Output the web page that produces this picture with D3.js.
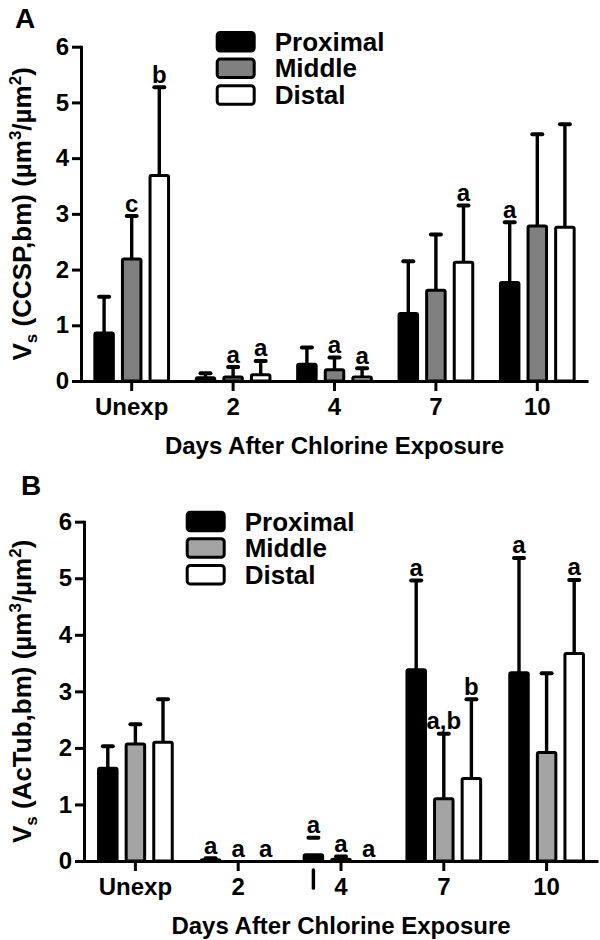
<!DOCTYPE html>
<html>
<head>
<meta charset="utf-8">
<script src="https://cdn.jsdelivr.net/npm/d3@7"></script>
<style>
  html, body { margin: 0; padding: 0; background: #fff; }
  svg text { font-family: "Liberation Sans", Arial, Helvetica, sans-serif; font-weight: bold; fill: #000; }
</style>
</head>
<body>
<svg id="chart" width="600" height="940"></svg>
<script>
// ---------- data ----------
const categories = ["Unexp", "2", "4", "7", "10"];
const seriesNames = ["Proximal", "Middle", "Distal"];
const yTicks = [0, 1, 2, 3, 4, 5, 6];
const xAxisTitle = "Days After Chlorine Exposure";

// Panel A : Vs (CCSP,bm)
const ccspProximal    = [0.86, 0.06, 0.30, 1.21, 1.77];
const ccspProximalErr = [0.65, 0.08, 0.30, 0.94, 1.08];
const ccspMiddle      = [2.19, 0.07, 0.20, 1.63, 2.78];
const ccspMiddleErr   = [0.77, 0.18, 0.22, 1.00, 1.65];
const ccspDistal      = [3.69, 0.11, 0.07, 2.13, 2.76];
const ccspDistalErr   = [1.58, 0.25, 0.16, 1.02, 1.85];
const ccspProximalLbl = ["", "", "", "", "a"];
const ccspMiddleLbl   = ["c", "a", "a", "", ""];
const ccspDistalLbl   = ["b", "a", "a", "a", ""];

// Panel B : Vs (AcTub,bm)
const actubProximal    = [1.64, 0.02, 0.11, 3.38, 3.33];
const actubProximalErr = [0.39, 0.03, 0.30, 1.58, 2.03];
const actubMiddle      = [2.07, 0.00, 0.03, 1.10, 1.92];
const actubMiddleErr   = [0.35, 0.00, 0.05, 1.15, 1.40];
const actubDistal      = [2.10, 0.00, 0.00, 1.46, 3.67];
const actubDistalErr   = [0.76, 0.00, 0.00, 1.40, 1.30];
const actubProximalLbl = ["", "a", "a", "a", "a"];
const actubMiddleLbl   = ["", "a", "a", "a,b", ""];
const actubDistalLbl   = ["", "a", "a", "b", "a"];
// displaced error stem drawn below the axis in the original (day 4, proximal)
const actubDisplacedStem = [{cat: "4", series: "Proximal", from: -0.16, to: -0.48}];

// ---------- drawing ----------
const svg = d3.select("#chart");

function drawPanel(cfg) {
  const g = svg.append("g");
  const x = d3.scaleBand().domain(categories).range([cfg.left, cfg.right]);
  const xs = d3.scalePoint().domain(seriesNames).range([-27.6, 27.6]);
  const y = d3.scaleLinear().domain([0, 6]).range([cfg.bottom, cfg.top]);
  const cx = (c, s) => x(c) + x.bandwidth() / 2 + xs(s);
  const fills = {Proximal: "#000000", Middle: cfg.midFill, Distal: "#ffffff"};

  const rows = [];
  cfg.series.forEach((ser, si) => {
    categories.forEach((c, i) => {
      rows.push({cat: c, series: seriesNames[si], v: ser.vals[i], e: ser.err[i], lbl: ser.lbl[i]});
    });
  });
  const displaced = new Set((cfg.displaced || []).map(d => d.cat + "|" + d.series));

  // error bars (upper only)
  const eb = g.append("g").attr("stroke", "#000");
  rows.filter(d => d.e > 0).forEach(d => {
    const X = cx(d.cat, d.series);
    if (!displaced.has(d.cat + "|" + d.series)) {
      eb.append("line").attr("x1", X).attr("x2", X)
        .attr("y1", y(d.v)).attr("y2", y(d.v + d.e)).attr("stroke-width", 3.4);
    }
    eb.append("line").attr("x1", X - 5).attr("x2", X + 5)
      .attr("y1", y(d.v + d.e)).attr("y2", y(d.v + d.e))
      .attr("stroke-width", 4).attr("stroke-linecap", "round");
  });
  (cfg.displaced || []).forEach(d => {
    const X = cx(d.cat, d.series);
    eb.append("line").attr("x1", X).attr("x2", X)
      .attr("y1", y(d.from)).attr("y2", y(d.to))
      .attr("stroke-width", 3.4).attr("stroke-linecap", "round");
  });

  // bars
  const bw = 18.5;
  g.append("g").selectAll("rect").data(rows).join("rect")
    .attr("x", d => cx(d.cat, d.series) - bw / 2)
    .attr("y", d => y(d.v))
    .attr("width", bw)
    .attr("height", d => y(0) - y(d.v))
    .attr("rx", 1.5)
    .attr("fill", d => fills[d.series])
    .attr("stroke", "#000")
    .attr("stroke-width", 3);

  // significance letters
  g.append("g").selectAll("text").data(rows.filter(d => d.lbl)).join("text")
    .attr("x", d => cx(d.cat, d.series))
    .attr("y", d => y(d.v + d.e) - 4.5)
    .attr("text-anchor", "middle")
    .attr("font-size", 24)
    .text(d => d.lbl);

  // axes
  const yAxis = d3.axisLeft(y).tickValues(yTicks).tickSize(9).tickSizeOuter(0).tickPadding(3)
    .tickFormat(d3.format("d"));
  const ya = g.append("g").attr("transform", `translate(${cfg.left},0)`).call(yAxis);
  const xAxis = d3.axisBottom(x).tickSize(10).tickSizeOuter(0).tickPadding(7);
  const xa = g.append("g").attr("transform", `translate(0,${y(0)})`).call(xAxis);
  [ya, xa].forEach(a => {
    a.selectAll("path, line").attr("stroke", "#000").attr("stroke-width", 3);
    a.selectAll("text").attr("font-size", 24).attr("font-family", null).attr("fill", "#000");
  });
  ya.select(".domain").attr("stroke-linecap", "square");

  // x axis title
  g.append("text")
    .attr("x", (cfg.left + cfg.right) / 2)
    .attr("y", y(0) + 73)
    .attr("text-anchor", "middle")
    .attr("font-size", 24)
    .text(xAxisTitle);

  // y axis title
  const yt = g.append("text")
    .attr("transform", `translate(31,${(cfg.top + cfg.bottom) / 2}) rotate(-90)`)
    .attr("text-anchor", "middle")
    .attr("font-size", 26);
  yt.append("tspan").text("V");
  yt.append("tspan").attr("font-size", 17).attr("dy", 6).text("s");
  yt.append("tspan").attr("dy", -6).text(" (" + cfg.marker + ",bm) (\u00b5m");
  yt.append("tspan").attr("font-size", 17).attr("dy", -10).text("3");
  yt.append("tspan").attr("dy", 10).text("/\u00b5m");
  yt.append("tspan").attr("font-size", 17).attr("dy", -10).text("2");
  yt.append("tspan").attr("dy", 10).text(")");

  // legend
  const lg = g.append("g");
  seriesNames.forEach((s, i) => {
    const top = cfg.legTop + i * 26.6;
    lg.append("rect").attr("x", cfg.legLeft + 1.5).attr("y", top + 1.5)
      .attr("width", 37).attr("height", 18.5).attr("rx", 3)
      .attr("fill", fills[s]).attr("stroke", "#000").attr("stroke-width", 3);
    lg.append("text").attr("x", cfg.legLeft + 59).attr("y", top + 19.8)
      .attr("font-size", 26).text(s);
  });

  // panel letter
  svg.append("text").attr("x", cfg.letterX).attr("y", cfg.letterY)
    .attr("font-size", 28).text(cfg.letter);
}

drawPanel({
  letter: "A", letterX: 15, letterY: 28,
  marker: "CCSP",
  left: 81, right: 588, top: 46.7, bottom: 381,
  midFill: "#808080",
  legLeft: 215.7, legTop: 31,
  series: [
    {vals: ccspProximal, err: ccspProximalErr, lbl: ccspProximalLbl},
    {vals: ccspMiddle, err: ccspMiddleErr, lbl: ccspMiddleLbl},
    {vals: ccspDistal, err: ccspDistalErr, lbl: ccspDistalLbl}
  ]
});

drawPanel({
  letter: "B", letterX: 21, letterY: 495,
  marker: "AcTub",
  left: 84, right: 598, top: 521.7, bottom: 861,
  midFill: "#a4a4a4",
  legLeft: 185.7, legTop: 510.7,
  displaced: actubDisplacedStem,
  series: [
    {vals: actubProximal, err: actubProximalErr, lbl: actubProximalLbl},
    {vals: actubMiddle, err: actubMiddleErr, lbl: actubMiddleLbl},
    {vals: actubDistal, err: actubDistalErr, lbl: actubDistalLbl}
  ]
});
</script>
</body>
</html>
